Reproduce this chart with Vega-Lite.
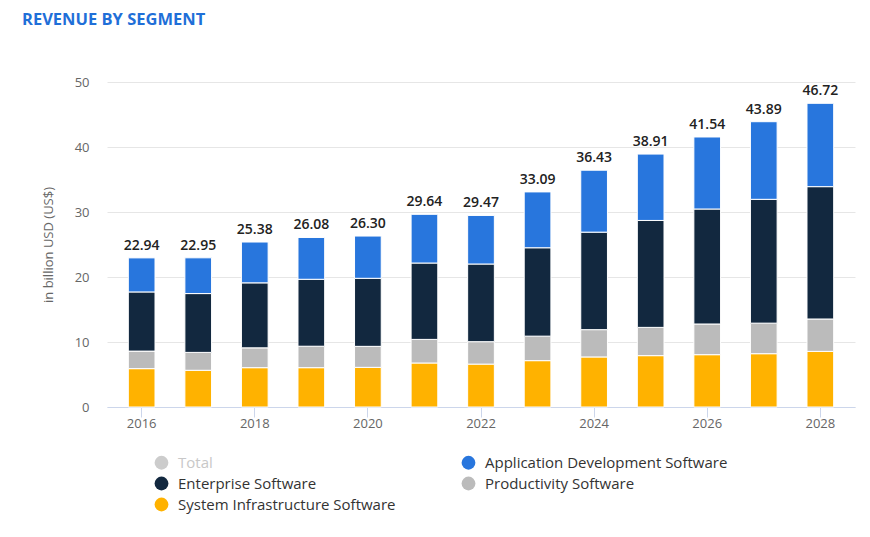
{
  "$schema": "https://vega.github.io/schema/vega-lite/v6.json",
  "autosize": "none",
  "width": 748,
  "height": 325,
  "padding": {"left": 107, "top": 82, "right": 15, "bottom": 130},
  "background": "white",
  "config": {
    "font": "Open Sans",
    "view": {"stroke": null}
  },
  "title": {
    "text": "REVENUE BY SEGMENT",
    "anchor": "start",
    "frame": "group",
    "dx": -85,
    "offset": 48,
    "fontSize": 16.5,
    "fontWeight": "bold",
    "color": "#1F6FD8",
    "font": "Open Sans"
  },
  "datasets": {
    "segments": [
      {"year": 2016, "segment": "System Infrastructure Software", "value": 5.9},
      {"year": 2016, "segment": "Productivity Software", "value": 2.7},
      {"year": 2016, "segment": "Enterprise Software", "value": 9.1},
      {"year": 2016, "segment": "Application Development Software", "value": 5.24},
      {"year": 2017, "segment": "System Infrastructure Software", "value": 5.65},
      {"year": 2017, "segment": "Productivity Software", "value": 2.75},
      {"year": 2017, "segment": "Enterprise Software", "value": 9.05},
      {"year": 2017, "segment": "Application Development Software", "value": 5.5},
      {"year": 2018, "segment": "System Infrastructure Software", "value": 6.05},
      {"year": 2018, "segment": "Productivity Software", "value": 3.05},
      {"year": 2018, "segment": "Enterprise Software", "value": 10.0},
      {"year": 2018, "segment": "Application Development Software", "value": 6.28},
      {"year": 2019, "segment": "System Infrastructure Software", "value": 6.05},
      {"year": 2019, "segment": "Productivity Software", "value": 3.3},
      {"year": 2019, "segment": "Enterprise Software", "value": 10.3},
      {"year": 2019, "segment": "Application Development Software", "value": 6.43},
      {"year": 2020, "segment": "System Infrastructure Software", "value": 6.1},
      {"year": 2020, "segment": "Productivity Software", "value": 3.23},
      {"year": 2020, "segment": "Enterprise Software", "value": 10.47},
      {"year": 2020, "segment": "Application Development Software", "value": 6.5},
      {"year": 2021, "segment": "System Infrastructure Software", "value": 6.77},
      {"year": 2021, "segment": "Productivity Software", "value": 3.63},
      {"year": 2021, "segment": "Enterprise Software", "value": 11.75},
      {"year": 2021, "segment": "Application Development Software", "value": 7.49},
      {"year": 2022, "segment": "System Infrastructure Software", "value": 6.6},
      {"year": 2022, "segment": "Productivity Software", "value": 3.45},
      {"year": 2022, "segment": "Enterprise Software", "value": 11.95},
      {"year": 2022, "segment": "Application Development Software", "value": 7.47},
      {"year": 2023, "segment": "System Infrastructure Software", "value": 7.13},
      {"year": 2023, "segment": "Productivity Software", "value": 3.77},
      {"year": 2023, "segment": "Enterprise Software", "value": 13.6},
      {"year": 2023, "segment": "Application Development Software", "value": 8.59},
      {"year": 2024, "segment": "System Infrastructure Software", "value": 7.7},
      {"year": 2024, "segment": "Productivity Software", "value": 4.2},
      {"year": 2024, "segment": "Enterprise Software", "value": 15.0},
      {"year": 2024, "segment": "Application Development Software", "value": 9.53},
      {"year": 2025, "segment": "System Infrastructure Software", "value": 7.9},
      {"year": 2025, "segment": "Productivity Software", "value": 4.35},
      {"year": 2025, "segment": "Enterprise Software", "value": 16.45},
      {"year": 2025, "segment": "Application Development Software", "value": 10.21},
      {"year": 2026, "segment": "System Infrastructure Software", "value": 8.05},
      {"year": 2026, "segment": "Productivity Software", "value": 4.72},
      {"year": 2026, "segment": "Enterprise Software", "value": 17.69},
      {"year": 2026, "segment": "Application Development Software", "value": 11.08},
      {"year": 2027, "segment": "System Infrastructure Software", "value": 8.2},
      {"year": 2027, "segment": "Productivity Software", "value": 4.7},
      {"year": 2027, "segment": "Enterprise Software", "value": 19.05},
      {"year": 2027, "segment": "Application Development Software", "value": 11.94},
      {"year": 2028, "segment": "System Infrastructure Software", "value": 8.56},
      {"year": 2028, "segment": "Productivity Software", "value": 4.98},
      {"year": 2028, "segment": "Enterprise Software", "value": 20.36},
      {"year": 2028, "segment": "Application Development Software", "value": 12.82}
    ],
    "totals": [
      {"year": 2016, "total": 22.94},
      {"year": 2017, "total": 22.95},
      {"year": 2018, "total": 25.38},
      {"year": 2019, "total": 26.08},
      {"year": 2020, "total": 26.30},
      {"year": 2021, "total": 29.64},
      {"year": 2022, "total": 29.47},
      {"year": 2023, "total": 33.09},
      {"year": 2024, "total": 36.43},
      {"year": 2025, "total": 38.91},
      {"year": 2026, "total": 41.54},
      {"year": 2027, "total": 43.89},
      {"year": 2028, "total": 46.72}
    ]
  },
  "encoding": {
    "x": {
      "field": "year",
      "type": "ordinal",
      "scale": {"paddingInner": 0.528, "paddingOuter": 0.377},
      "axis": {
        "title": null,
        "values": [2016, 2018, 2020, 2022, 2024, 2026, 2028],
        "labelAngle": 0,
        "labelFontSize": 13,
        "labelColor": "#666666",
        "labelPadding": 0,
        "domainColor": "#ccd6eb",
        "tickColor": "#ccd6eb",
        "tickSize": 10,
        "grid": false
      }
    }
  },
  "layer": [
    {
      "data": {"name": "segments"},
      "transform": [
        {"calculate": "indexof(['System Infrastructure Software','Productivity Software','Enterprise Software','Application Development Software'], datum.segment)", "as": "stackIndex"}
      ],
      "mark": {"type": "bar", "stroke": "white", "strokeWidth": 1},
      "encoding": {
        "y": {
          "field": "value",
          "type": "quantitative",
          "stack": "zero",
          "scale": {"domain": [0, 50], "nice": false},
          "axis": {
            "title": "in billion USD (US$)",
            "values": [0, 10, 20, 30, 40, 50],
            "grid": true,
            "gridColor": "#e6e6e6",
            "domain": false,
            "ticks": false,
            "labelPadding": 18,
            "labelFontSize": 13,
            "labelColor": "#666666",
            "titleFontSize": 13,
            "titleFontWeight": "normal",
            "titleColor": "#666666",
            "titlePadding": 19
          }
        },
        "color": {
          "field": "segment",
          "type": "nominal",
          "scale": {
            "domain": ["Total", "Enterprise Software", "System Infrastructure Software", "Application Development Software", "Productivity Software"],
            "range": ["#cccccc", "#12283F", "#FFB200", "#2876DD", "#BBBBBB"]
          },
          "legend": {
            "title": null,
            "orient": "none",
            "legendX": 47,
            "legendY": 373,
            "columns": 2,
            "columnPadding": 65,
            "rowPadding": 5,
            "symbolType": "circle",
            "symbolSize": 190,
            "symbolStrokeWidth": 0,
            "labelFontSize": 15,
            "labelOffset": 9,
            "labelLimit": 400,
            "labelColor": {"expr": "datum.value === 'Total' ? '#c8c8c8' : '#333333'"}
          }
        },
        "order": {"field": "stackIndex", "type": "quantitative"}
      }
    },
    {
      "data": {"name": "totals"},
      "mark": {"type": "text", "baseline": "middle", "dy": -12, "fontSize": 14, "fontWeight": 600, "color": "#222222"},
      "encoding": {
        "y": {"field": "total", "type": "quantitative"},
        "text": {"field": "total", "type": "quantitative", "format": ".2f"}
      }
    }
  ]
}
